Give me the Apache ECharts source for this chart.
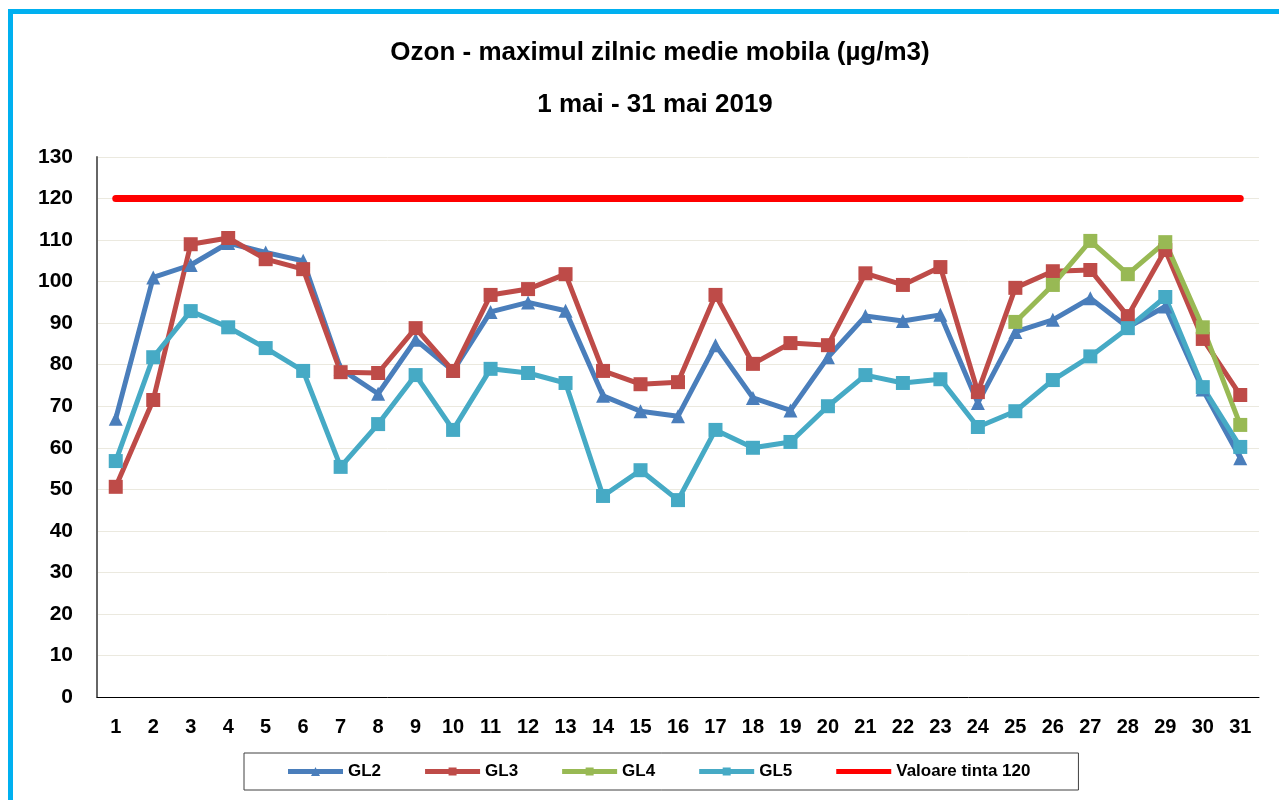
<!DOCTYPE html>
<html lang="ro">
<head>
<meta charset="UTF-8">
<title>Ozon mai 2019</title>
<script src="https://cdn.jsdelivr.net/npm/echarts@6/dist/echarts.min.js"></script>
<style>
  html, body { margin: 0; padding: 0; background: #fff; }
  #frame {
    position: absolute; left: 8px; top: 9px; width: 1400px; height: 900px;
    border-left: 5px solid #00b0f0; border-top: 5px solid #00b0f0;
  }
  #main { position: absolute; left: 0; top: 0; width: 1279px; height: 800px; }
</style>
</head>
<body>
<div id="frame"></div>
<div id="main"></div>
<script type="text/javascript">
// zilele lunii
var days = [];
for (var d = 1; d <= 31; d++) days.push(String(d));

// valori (µg/m3)
var gl2 = [67, 101, 104, 109.3, 107, 105, 79, 73, 86, 78.5, 92.7, 95, 93, 72.5, 68.8, 67.6, 84.7, 72, 69, 81.8, 91.7, 90.5, 92, 70.8, 87.9, 90.8, 96, 89, 94, 74, 57.5];
var gl3 = [50.6, 71.5, 109, 110.5, 105.4, 103, 78.2, 78, 88.8, 78.5, 96.8, 98.2, 101.8, 78.5, 75.3, 75.8, 96.8, 80.2, 85.2, 84.7, 102, 99.2, 103.5, 73.4, 98.5, 102.5, 102.8, 91.7, 107.6, 86.2, 72.7];
var gl4 = ['-', '-', '-', '-', '-', '-', '-', '-', '-', '-', '-', '-', '-', '-', '-', '-', '-', '-', '-', '-', '-', '-', '-', '-', 90.3, 99.2, 109.8, 101.8, 109.5, 89, 65.5];
var gl5 = [56.8, 81.8, 92.9, 89, 84, 78.5, 55.4, 65.7, 77.5, 64.3, 79, 78, 75.6, 48.4, 54.6, 47.4, 64.3, 60, 61.4, 70, 77.5, 75.6, 76.5, 65, 68.8, 76.3, 82, 88.8, 96.3, 74.6, 60.2];
var tinta = days.map(function () { return 120; });

var myChart = echarts.init(document.getElementById('main'));

var fontFam = 'Liberation Sans, Arial, sans-serif';

// iconite legenda: linie groasa + marker mic
var iconTri = 'path://M0,4.5H55V9.5H0Z M23,11.5L27.5,2.5L32,11.5Z';
var iconSq = 'path://M0,4.5H55V9.5H0Z M23.5,3H31.5V11H23.5Z';
var iconLine = 'path://M0,0H55V0.1H0Z M0,4.5H55V9.5H0Z M0,13.9H55V14H0Z';

function lineSeries(name, data, color, symbol) {
  return {
    name: name,
    type: 'line',
    data: data,
    symbol: symbol,
    symbolSize: 14,
    itemStyle: { color: color },
    lineStyle: { color: color, width: 5 },
    emphasis: { disabled: true }
  };
}

var option = {
  animation: false,
  title: [{
    text: 'Ozon - maximul zilnic medie mobila (µg/m3)',
    left: 655,
    top: 35,
    textAlign: 'center',
    textStyle: { fontFamily: fontFam, fontSize: 26, fontWeight: 'bold', color: '#000' }
  }, {
    text: '1 mai - 31 mai 2019',
    left: 650,
    top: 87,
    textAlign: 'center',
    textStyle: { fontFamily: fontFam, fontSize: 26, fontWeight: 'bold', color: '#000' }
  }],
  legend: {
    left: 244,
    top: 753,
    padding: [10, 48, 10, 44],
    itemGap: 44,
    itemWidth: 55,
    itemHeight: 14,
    borderColor: '#404040',
    borderWidth: 1,
    textStyle: { fontFamily: fontFam, fontSize: 17, fontWeight: 'bold', color: '#000' },
    data: [
      { name: 'GL2', icon: iconTri },
      { name: 'GL3', icon: iconSq },
      { name: 'GL4', icon: iconSq },
      { name: 'GL5', icon: iconSq },
      { name: 'Valoare tinta 120', icon: iconLine }
    ]
  },
  grid: { left: 97, right: 20, top: 157, bottom: 103 },
  xAxis: {
    type: 'category',
    data: days,
    boundaryGap: true,
    axisLine: { lineStyle: { color: '#000', width: 1 } },
    axisTick: { show: false },
    axisLabel: { fontFamily: fontFam, fontSize: 20, fontWeight: 'bold', color: '#000', margin: 20 }
  },
  yAxis: {
    type: 'value',
    min: 0,
    max: 130,
    interval: 10,
    axisLine: { show: true, lineStyle: { color: '#666666', width: 2 } },
    axisTick: { show: false },
    splitLine: { lineStyle: { color: '#ebe9df', width: 1 } },
    axisLabel: { fontFamily: fontFam, fontSize: 21, fontWeight: 'bold', color: '#000', margin: 24 }
  },
  series: [
    lineSeries('GL2', gl2, '#4a7ebb', 'triangle'),
    lineSeries('GL3', gl3, '#be4b48', 'rect'),
    lineSeries('GL4', gl4, '#98b954', 'rect'),
    lineSeries('GL5', gl5, '#46aac5', 'rect'),
    {
      name: 'Valoare tinta 120',
      type: 'line',
      data: tinta,
      symbol: 'none',
      itemStyle: { color: '#ff0000' },
      lineStyle: { color: '#ff0000', width: 7, cap: 'round' },
      emphasis: { disabled: true }
    }
  ]
};

myChart.setOption(option);
</script>
</body>
</html>
